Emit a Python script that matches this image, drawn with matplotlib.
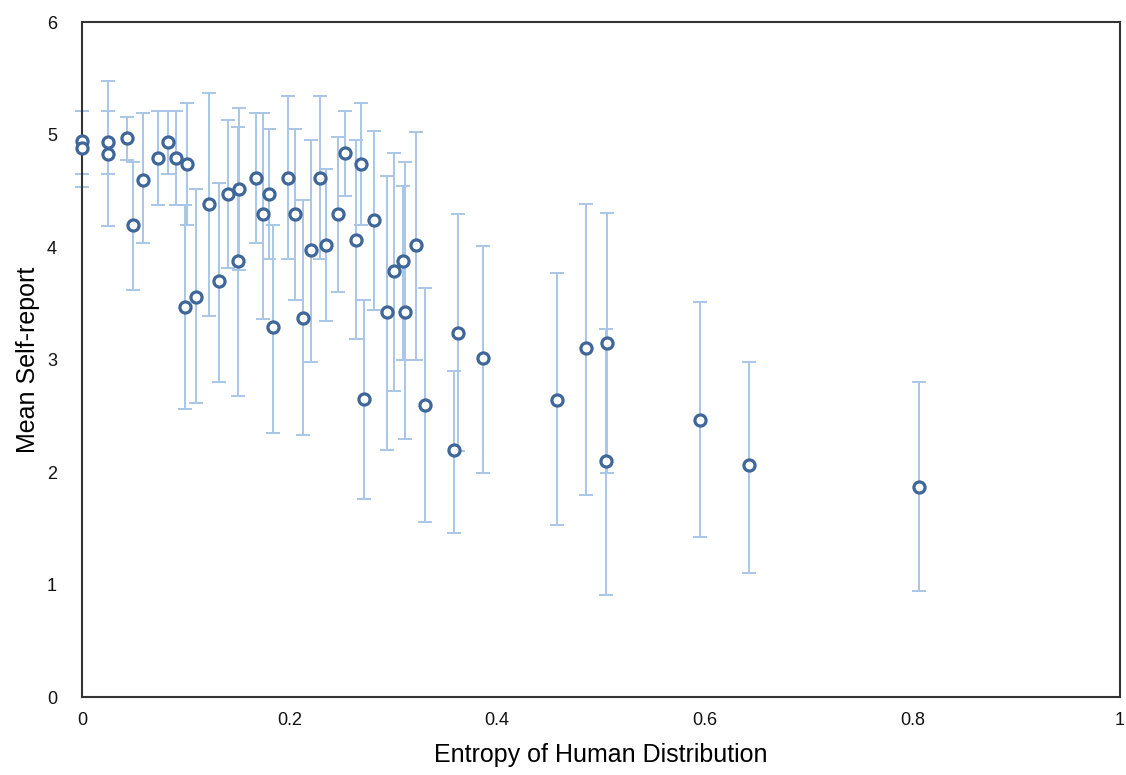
import matplotlib.pyplot as plt
from matplotlib.ticker import FuncFormatter

plt.rcParams['font.family'] = ['Liberation Sans', 'DejaVu Sans']

# entropy (x), mean self-report (y), error bar top / bottom
entropy = [0.000, 0.000, 0.025, 0.025, 0.043, 0.049, 0.059, 0.073, 0.083, 0.091,
           0.101, 0.099, 0.110, 0.122, 0.132, 0.141, 0.151, 0.150, 0.168, 0.174,
           0.180, 0.184, 0.198, 0.205, 0.213, 0.221, 0.229, 0.235, 0.247, 0.253,
           0.264, 0.269, 0.272, 0.281, 0.294, 0.301, 0.309, 0.311, 0.322, 0.330,
           0.358, 0.362, 0.386, 0.458, 0.486, 0.506, 0.505, 0.595, 0.643, 0.806]
mean_report = [4.94, 4.88, 4.93, 4.83, 4.97, 4.20, 4.60, 4.79, 4.93, 4.79,
               4.74, 3.47, 3.56, 4.38, 3.70, 4.47, 4.52, 3.88, 4.61, 4.29,
               4.47, 3.29, 4.61, 4.29, 3.37, 3.97, 4.61, 4.02, 4.29, 4.84,
               4.06, 4.74, 2.65, 4.24, 3.42, 3.79, 3.88, 3.42, 4.02, 2.60,
               2.20, 3.24, 3.01, 2.64, 3.10, 3.15, 2.10, 2.46, 2.06, 1.87]
err_top = [5.21, 5.21, 5.21, 5.48, 5.16, 4.76, 5.19, 5.21, 5.21, 5.21,
           5.28, 4.37, 4.52, 5.37, 4.57, 5.13, 5.24, 5.07, 5.19, 5.19,
           5.05, 4.20, 5.34, 5.05, 4.42, 4.95, 5.34, 4.69, 4.98, 5.21,
           4.95, 5.28, 3.53, 5.03, 4.63, 4.84, 4.54, 4.76, 5.02, 3.64,
           2.90, 4.29, 4.01, 3.77, 4.38, 4.30, 3.27, 3.51, 2.98, 2.80]
err_bottom = [4.65, 4.53, 4.65, 4.19, 4.77, 3.62, 4.04, 4.37, 4.65, 4.37,
              4.20, 2.56, 2.61, 3.39, 2.80, 3.81, 3.80, 2.68, 4.04, 3.36,
              3.89, 2.35, 3.89, 3.53, 2.33, 2.98, 3.89, 3.34, 3.60, 4.45,
              3.18, 4.20, 1.76, 3.44, 2.20, 2.72, 3.00, 2.29, 3.00, 1.56,
              1.46, 2.19, 1.99, 1.53, 1.80, 1.99, 0.91, 1.42, 1.10, 0.94]

yerr = [[m - b for m, b in zip(mean_report, err_bottom)],
        [t - m for m, t in zip(mean_report, err_top)]]

fig = plt.figure(figsize=(11.26, 7.75), dpi=100)
ax = fig.add_axes([0.0728, 0.1006, 0.9219, 0.871])

eb = ax.errorbar(entropy, mean_report, yerr=yerr, fmt='none', ecolor='#a9c6e8',
                 elinewidth=1.4, capsize=5, capthick=1.4, zorder=2)
for art in eb.lines[1] + eb.lines[2]:
    art.set_clip_on(False)
ax.plot(entropy, mean_report, 'o', markersize=8, markerfacecolor='white',
        markeredgecolor='#3e6699', markeredgewidth=2.3, linestyle='none',
        zorder=3, clip_on=False)

ax.set_xlim(0, 1)
ax.set_ylim(0, 6)
ax.set_xticks([0, 0.2, 0.4, 0.6, 0.8, 1])
ax.set_yticks(range(7))
ax.xaxis.set_major_formatter(FuncFormatter(lambda v, p: '%g' % v))
ax.tick_params(length=0, labelsize=13, colors='#111111')
ax.tick_params(axis='x', pad=11)
ax.tick_params(axis='y', pad=18)
for s in ax.spines.values():
    s.set_linewidth(1.5)
    s.set_color('#333333')

ax.set_xlabel('Entropy of Human Distribution', fontsize=18, labelpad=10)
ax.set_ylabel('Mean Self-report', fontsize=18, labelpad=5)

fig.savefig('out.png', dpi=100)
